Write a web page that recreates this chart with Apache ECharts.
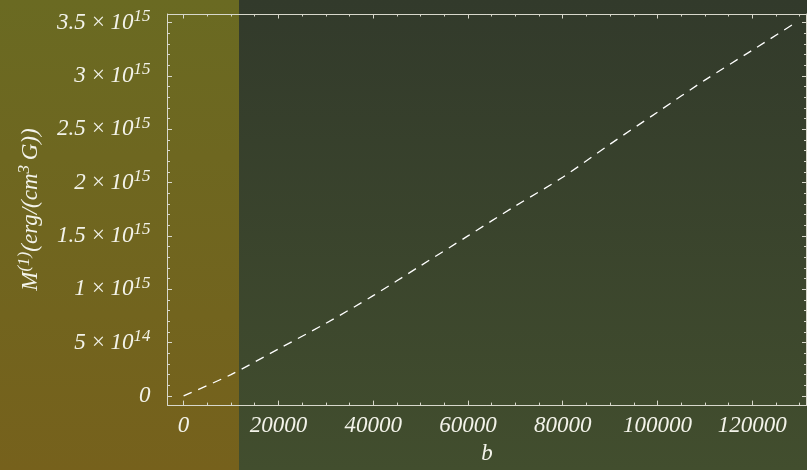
<!DOCTYPE html>
<html>
<head>
<meta charset="utf-8">
<script src="https://cdn.jsdelivr.net/npm/echarts@6/dist/echarts.min.js"></script>
<style>
  html, body { margin: 0; padding: 0; }
  #chart {
    width: 807px; height: 470px;
    background:
      linear-gradient(to bottom, #6a6a22, #76611c) 0 0 / 239px 100% no-repeat,
      linear-gradient(to bottom, #323a2b, #424e2e);
  }
</style>
</head>
<body>
<div id="chart"></div>
<script>
// M^(1) as a function of b
const bValues = [0, 10000, 20000, 30000, 40000, 50000, 60000, 70000, 80000, 90000, 100000, 110000, 120000, 128500];
const mValues = [0, 0.20e15, 0.44e15, 0.68e15, 0.94e15, 1.22e15, 1.50e15, 1.78e15, 2.05e15, 2.36e15, 2.66e15, 2.96e15, 3.24e15, 3.48e15];

// axis ticks
const xMajorTicks = [0, 20000, 40000, 60000, 80000, 100000, 120000];
const xMinorTicks = [];
for (let v = 0; v <= 130000; v += 5000) xMinorTicks.push(v);
const yMajorTicks = [0, 0.5e15, 1e15, 1.5e15, 2e15, 2.5e15, 3e15, 3.5e15];
// mantissa and exponent for each y tick label
const yTickMantissa = ['0', '5', '1', '1.5', '2', '2.5', '3', '3.5'];
const yTickExponent = ['', '14', '15', '15', '15', '15', '15', '15'];
const yMinorTicks = [];
for (let i = 0; i <= 35; i++) yMinorTicks.push(i * 1e14);

const xRange = [-3400, 131450];
const yRange = [-0.086e15, 3.58e15];

const FONT = 'Liberation Serif';
const TXT = '#f3f3ea';
const LINE = '#d8d8cc';

const rich = {
  base: { fontFamily: FONT, fontStyle: 'italic', fontSize: 23, lineHeight: 23, color: TXT },
  sup: { fontFamily: FONT, fontStyle: 'italic', fontSize: 17, lineHeight: 17, padding: [0, 0, 12, 0], color: TXT }
};

function yLabel(value) {
  let idx = 0, best = Infinity;
  yMajorTicks.forEach((t, i) => { const d = Math.abs(t - value); if (d < best) { best = d; idx = i; } });
  const m = yTickMantissa[idx], e = yTickExponent[idx];
  if (!e) return '{base|' + m + '}';
  return '{base|' + m + '\u2009\u00d7\u200910}{sup|' + e + '}';
}

function tickAxis(kind, position, ticks, len, withLine) {
  return {
    type: 'value',
    position: position,
    min: kind === 'x' ? xRange[0] : yRange[0],
    max: kind === 'x' ? xRange[1] : yRange[1],
    axisLine: { show: withLine, onZero: false, lineStyle: { color: LINE, width: 1 } },
    axisTick: { show: true, inside: true, length: len, customValues: ticks, lineStyle: { color: LINE, width: 1 } },
    axisLabel: { show: false },
    splitLine: { show: false }
  };
}

const chart = echarts.init(document.getElementById('chart'), null, { renderer: 'canvas' });

const xMain = tickAxis('x', 'bottom', xMajorTicks, 4.5, true);
xMain.axisLabel = {
  show: true, customValues: xMajorTicks, margin: 9,
  fontFamily: FONT, fontStyle: 'italic', fontSize: 23, color: TXT,
  formatter: v => String(Math.round(v))
};
xMain.name = 'b';
xMain.nameLocation = 'middle';
xMain.nameGap = 36;
xMain.nameTextStyle = { fontFamily: FONT, fontStyle: 'italic', fontSize: 23, color: TXT };

const yMain = tickAxis('y', 'left', yMajorTicks, 4.5, true);
yMain.axisLabel = {
  show: true, customValues: yMajorTicks, margin: 17,
  formatter: yLabel, rich: rich
};
yMain.name = '{base|M}{sup|(1)}{base|(erg/(cm}{sup|3}{base|\u2009G))}';
yMain.nameLocation = 'middle';
yMain.nameRotate = 90;
yMain.nameGap = 125;
yMain.nameTextStyle = { rich: rich };

chart.setOption({
  animation: false,
  grid: { left: 167.5, right: 0.5, top: 14, bottom: 60, containLabel: false },
  xAxis: [
    xMain,
    tickAxis('x', 'bottom', xMinorTicks, 2.5, false),
    tickAxis('x', 'top', xMajorTicks, 4.5, true),
    tickAxis('x', 'top', xMinorTicks, 2.5, false)
  ],
  yAxis: [
    yMain,
    tickAxis('y', 'left', yMinorTicks, 2.5, false),
    tickAxis('y', 'right', yMajorTicks, 4.5, true),
    tickAxis('y', 'right', yMinorTicks, 2.5, false)
  ],
  series: [{
    type: 'line',
    xAxisIndex: 0,
    yAxisIndex: 0,
    data: bValues.map((b, i) => [b, mValues[i]]),
    showSymbol: false,
    smooth: 0.3,
    lineStyle: { color: '#ffffff', width: 1.3, type: [9, 7] }
  }]
});
</script>
</body>
</html>
